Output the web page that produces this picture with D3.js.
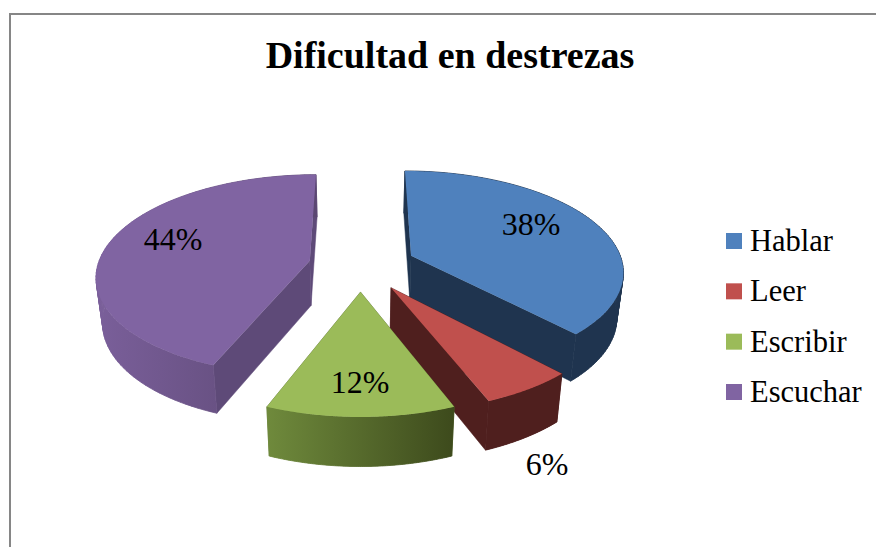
<!DOCTYPE html>
<html>
<head>
<meta charset="utf-8">
<script src="https://cdn.jsdelivr.net/npm/d3@7/dist/d3.min.js"></script>
<style>
html,body{margin:0;padding:0;background:#fff;overflow:hidden}
text{font-family:"Liberation Serif","DejaVu Serif",serif;fill:#000}
</style>
</head>
<body>
<svg id="chart" width="876" height="547"></svg>
<script>
const title = "Dificultad en destrezas";
const categories = ["Hablar", "Leer", "Escribir", "Escuchar"];
const values = [38, 6, 12, 44];
const topColors = ["#4f81bd", "#c0504d", "#9bbb59", "#8064a2"];
const sideLeft = ["#1f344f", "#4f1f1e", "#6f8a3c", "#7a5f9a"];
const sideRight = ["#1f344f", "#4f1f1e", "#3d4a1c", "#5b4772"];
const cutColors = ["#1f344f", "#4f1f1e", "#5f7434", "#5e4a78"];

// layout
const W = 876, H = 547;
const view = {cx: 360.5, cy: 265.2, R: 212, Q: 99.2, a: 0.14, xDrop: 0.975, yDrop: 1.03, depth: 45};
const explode = [0.26, 0.26, 0.26, 0.245];
const drawOrder = [0, 3, 1, 2];
const labelAt = [[531, 235], [547, 475], [360, 393], [173, 250]];

const svg = d3.select("#chart");
svg.append("rect").attr("x", 10).attr("y", 14).attr("width", W + 20).attr("height", H + 20)
  .attr("fill", "#fff").attr("stroke", "#868686").attr("stroke-width", 2);

svg.append("text").attr("x", 450).attr("y", 68).attr("text-anchor", "middle")
  .attr("font-size", 38).attr("font-weight", "bold").text(title);

const pie = d3.pie().sort(null).value(d => d);
const arcs = pie(values);
const defs = svg.append("defs");

function planePoint(arc, theta, radius) {
  const mid = (arc.startAngle + arc.endAngle) / 2;
  const e = explode[arc.index];
  return [
    e * Math.sin(mid) + radius * Math.sin(theta),
    -e * Math.cos(mid) - radius * Math.cos(theta)
  ];
}
function upper([u, v]) {
  const w = 1 / (1 - view.a * v);
  return [view.cx + view.R * u * w, view.cy + view.Q * v * w];
}
function lower(p) {
  const [x, y] = upper(p);
  return [view.cx + (x - view.cx) * view.xDrop, view.cy + (y - view.cy) * view.yDrop + view.depth];
}
const line = d3.line();

const groups = svg.append("g").selectAll("g").data(drawOrder).join("g");
groups.each(function (i) {
  const g = d3.select(this), arc = arcs[i];
  const thetas = d3.range(0, 91).map(k => arc.startAngle + (arc.endAngle - arc.startAngle) * k / 90);
  const rim = thetas.map(t => planePoint(arc, t, 1));
  const apex = planePoint(arc, 0, 0);

  const xs = rim.map(p => upper(p)[0]);
  const gid = "rim" + i;
  const grad = defs.append("linearGradient").attr("id", gid)
    .attr("gradientUnits", "userSpaceOnUse")
    .attr("x1", d3.min(xs)).attr("x2", d3.max(xs)).attr("y1", 0).attr("y2", 0);
  grad.append("stop").attr("offset", "0%").attr("stop-color", sideLeft[i]);
  grad.append("stop").attr("offset", "100%").attr("stop-color", sideRight[i]);

  // radial cut faces
  [rim[0], rim[rim.length - 1]].forEach(p => {
    g.append("path")
      .attr("d", line([upper(apex), upper(p), lower(p), lower(apex)]) + "Z")
      .attr("fill", cutColors[i]).attr("stroke", cutColors[i]).attr("stroke-width", 0.5);
  });
  // outer rim: one path holding every swept facet, so no seams show
  g.append("path")
    .attr("d", d3.pairs(rim).map(([a, b]) => line([upper(a), upper(b), lower(b), lower(a)]) + "Z").join(""))
    .attr("fill", `url(#${gid})`).attr("stroke", `url(#${gid})`).attr("stroke-width", 0.8);
  // top surface
  g.append("path")
    .attr("d", line([upper(apex)].concat(rim.map(upper))) + "Z")
    .attr("fill", topColors[i]);
});

// data labels
svg.append("g").selectAll("text").data(arcs).join("text")
  .attr("x", (d, i) => labelAt[i][0]).attr("y", (d, i) => labelAt[i][1])
  .attr("text-anchor", "middle").attr("font-size", 32)
  .text(d => d3.format("d")(d.data) + "%");

// legend
const ly = d3.scalePoint().domain(categories).range([241, 392]);
const lg = svg.append("g").selectAll("g").data(categories).join("g");
lg.append("rect").attr("x", 726).attr("y", d => ly(d) - 8).attr("width", 16).attr("height", 16)
  .attr("fill", (d, i) => topColors[i]);
lg.append("text").attr("x", 750).attr("y", d => ly(d) + 10).attr("font-size", 30.5).text(d => d);
</script>
</body>
</html>
